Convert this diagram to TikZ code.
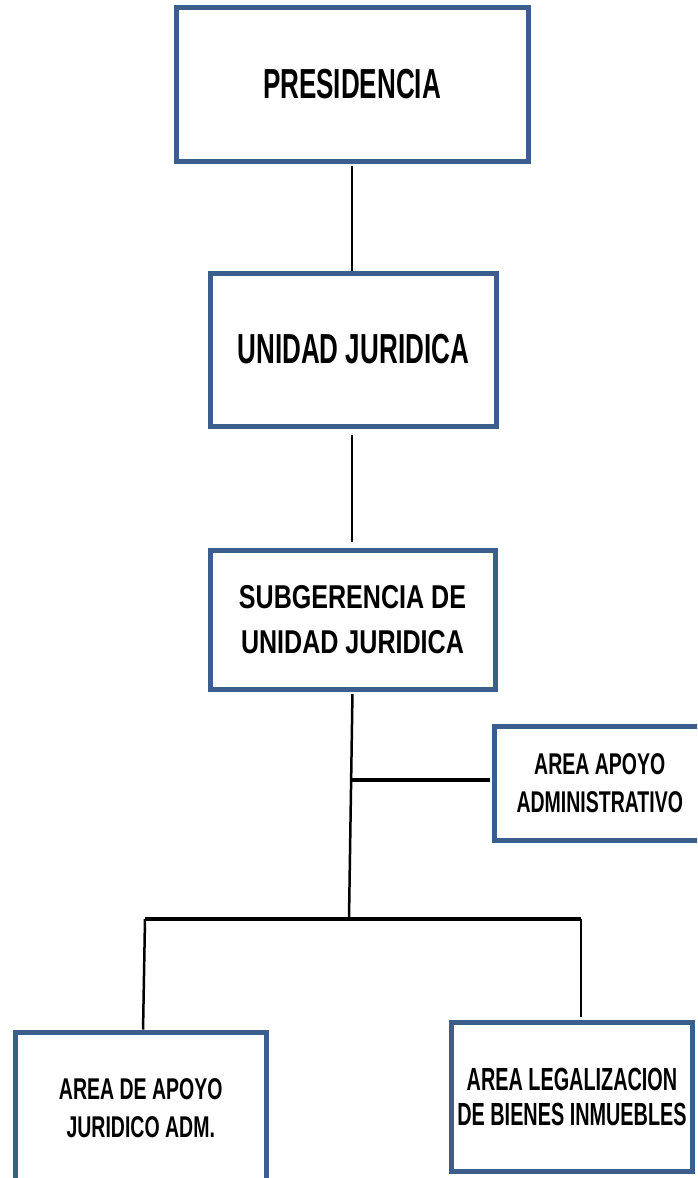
\documentclass[tikz,border=0pt]{standalone}
\usepackage{fontspec}
\setmainfont{Liberation Sans}
\newfontfamily\fsA[FakeStretch=0.62]{Liberation Sans}
\newfontfamily\fsB[FakeStretch=0.76]{Liberation Sans}
\newfontfamily\fsC[FakeStretch=0.65]{Liberation Sans}
\usetikzlibrary{calc}
\definecolor{boxblue}{RGB}{59,94,140}
\tikzset{
  orgbox/.style={draw=boxblue, line width=5pt, fill=white, rectangle, inner sep=0pt, align=center, text=black},
  link/.style={draw=black, line width=2.5pt},
  bar/.style={draw=black, line width=4pt}
}
\begin{document}
\begin{tikzpicture}[x=1pt,y=-1pt]
\useasboundingbox (0,0) rectangle (697,1178);
\clip (0,0) rectangle (697,1178);
\fill[white] (0,0) rectangle (697,1178);
% boxes
\node[orgbox, minimum width=352pt, minimum height=154pt, font=\fsA\bfseries\fontsize{42}{50}\selectfont] (pres) at (352,84) {PRESIDENCIA};
\node[orgbox, minimum width=285.5pt, minimum height=153pt, font=\fsA\bfseries\fontsize{42}{50}\selectfont] (uj) at (353.25,349.5) {UNIDAD JURIDICA};
\node[orgbox, minimum width=285pt, minimum height=139pt, font=\fsB\bfseries\fontsize{33}{45}\selectfont] (sub) at (352.5,619.5) {SUBGERENCIA DE\\UNIDAD JURIDICA};
\node[orgbox, minimum width=210.5pt, minimum height=113.5pt, font=\fsC\bfseries\fontsize{30}{38}\selectfont] (aaa) at (599.75,783.25) {AREA APOYO\\ADMINISTRATIVO};
\node[orgbox, minimum width=251.5pt, minimum height=152pt, font=\fsC\bfseries\fontsize{30}{37.5}\selectfont] (ajur) at (140.75,1108) {AREA DE APOYO\\JURIDICO ADM.};
\node[orgbox, minimum width=241pt, minimum height=149pt, font=\fsA\bfseries\fontsize{32}{35}\selectfont] (aleg) at (572,1096.5) {AREA LEGALIZACION\\DE BIENES INMUEBLES};
% junction coordinates
\coordinate (barC) at (349,919);
\coordinate (barL) at (145,919);
\coordinate (barR) at (581,919);
\coordinate (tee) at ($(sub.south)!0.387!(barC)$);
% connectors
\draw[link, shorten <=2.5pt] (pres.south) -- (pres.south |- uj.north);
\draw[link, shorten <=6pt, shorten >=6pt] (uj.south -| pres.south) -- (pres.south |- sub.north);
\draw[link, shorten <=2.5pt] (sub.south) -- (barC);
\draw[bar, shorten >=2.5pt] (tee) -- (tee -| aaa.west);
\draw[bar] (barL) -- (barR);
\draw[link, shorten >=2.5pt] (barL) -- (143,1032);
\draw[link, shorten >=2.5pt] (barR) -- (barR |- aleg.north);
\end{tikzpicture}
\end{document}
